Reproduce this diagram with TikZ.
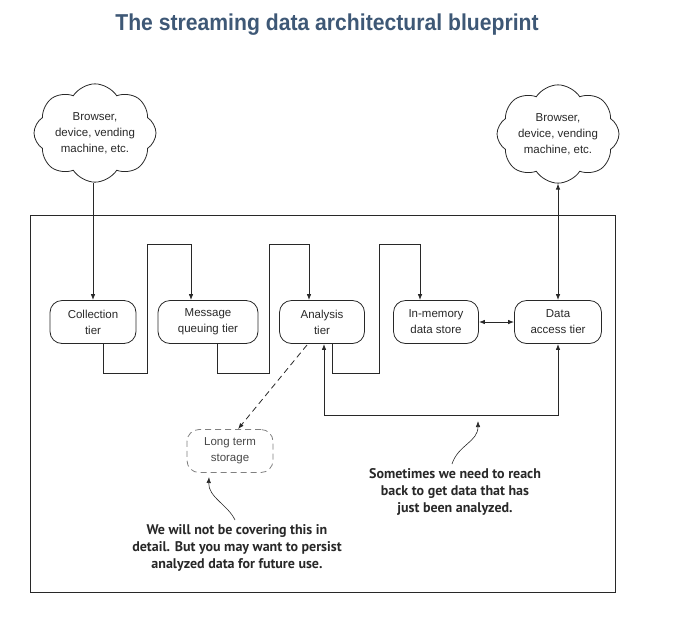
\documentclass[tikz,border=0pt]{standalone}
\usepackage{fontspec}
\setmainfont{Liberation Sans}
\newfontfamily\titlefont[FakeStretch=0.92]{Liberation Sans}
\newfontfamily\notefont{PT Sans}
\usetikzlibrary{shapes.symbols,arrows.meta}
\definecolor{titleblue}{RGB}{62,88,118}
\definecolor{ink}{RGB}{40,40,40}
\begin{document}
\begin{tikzpicture}[x=1pt,y=-1pt,
  line width=0.8pt, draw=ink,
  arr/.style={-{Latex[length=6pt,width=4.5pt]}},
  darr/.style={{Latex[length=6pt,width=4.5pt]}-{Latex[length=6pt,width=4.5pt]}},
  tier/.style={draw, rounded corners=12pt, minimum height=43pt, align=center,
    font=\fontsize{11.5}{16}\selectfont, text=ink, inner sep=2pt},
  ghost/.style={tier, draw=gray, dashed, dash pattern=on 6pt off 4pt},
  cloudy/.style={draw, cloud, cloud puffs=8, cloud puff arc=115, aspect=1.4,
    minimum width=122pt, minimum height=90pt, align=center, inner sep=0pt,
    font=\fontsize{11.5}{16}\selectfont, text=ink},
  note/.style={align=center, font=\notefont\bfseries\fontsize{14}{17}\selectfont, text=ink}]
\useasboundingbox (0,0) rectangle (698,627);
\node[font=\titlefont\bfseries\fontsize{23}{26}\selectfont, text=titleblue] (title) at (327,25) {The streaming data architectural blueprint};
\node[cloudy] (cl) at (95,133) {Browser,\\device, vending\\machine, etc.};
\node[cloudy] (cr) at (558,134) {Browser,\\device, vending\\machine, etc.};
\draw (30,215) rectangle (615,592);
\node[tier, minimum width=86pt] (coll) at (93,322) {Collection\\tier};
\node[tier, minimum width=100pt] (mq) at (208,322) {Message\\queuing tier};
\node[tier, minimum width=85pt] (an) at (322,322) {Analysis\\tier};
\node[tier, minimum width=85pt] (mem) at (436,322) {In-memory\\data store};
\node[tier, minimum width=87pt] (da) at (558,322) {Data\\access tier};
\node[ghost, minimum width=86pt, text=ink!85] (lts) at (230,451) {Long term\\storage};
% connectors
\coordinate (a1) at (103,373); \coordinate (a2) at (147,244); \coordinate (a3) at (191,244);
\coordinate (b1) at (217,373); \coordinate (b2) at (269,244); \coordinate (b3) at (309,244);
\coordinate (c1) at (332,373); \coordinate (c2) at (379,244); \coordinate (c3) at (420,244);
\coordinate (r1) at (324,415);
\draw[arr] (coll.north |- cl.south) -- (coll.north);
\draw[arr] (coll.south -| a1) -- (a1) -| (a2) -- (a3) -- (mq.north -| a3);
\draw[arr] (mq.south -| b1) -- (b1) -| (b2) -- (b3) -- (an.north -| b3);
\draw[arr] (an.south -| c1) -- (c1) -| (c2) -- (c3) -- (mem.north -| c3);
\draw[darr] (mem.east) -- (da.west);
\draw[darr] (da.north) -- (da.north |- cr.south);
\draw[darr] (an.south -| r1) -- (r1) -| (da.south);
\draw[arr, dashed, dash pattern=on 6pt off 4pt] (307,345) -- (lts.north -| 238,0);
% notes
\node[note] (n1) at (455,492) {Sometimes we need to reach\\back to get data that has\\just been analyzed.};
\node[note] (n2) at (237,548) {We will not be covering this in\\detail. But you may want to persist\\analyzed data for future use.};
\coordinate (t1) at (478,421);
\coordinate (t2) at (209,477);
\draw[arr, line width=0.6pt] (452,464) .. controls (458,445) and (478,442) .. (t1);
\draw[arr, line width=0.6pt] (235,520) .. controls (228,505) and (208,497) .. (t2);
\end{tikzpicture}
\end{document}
